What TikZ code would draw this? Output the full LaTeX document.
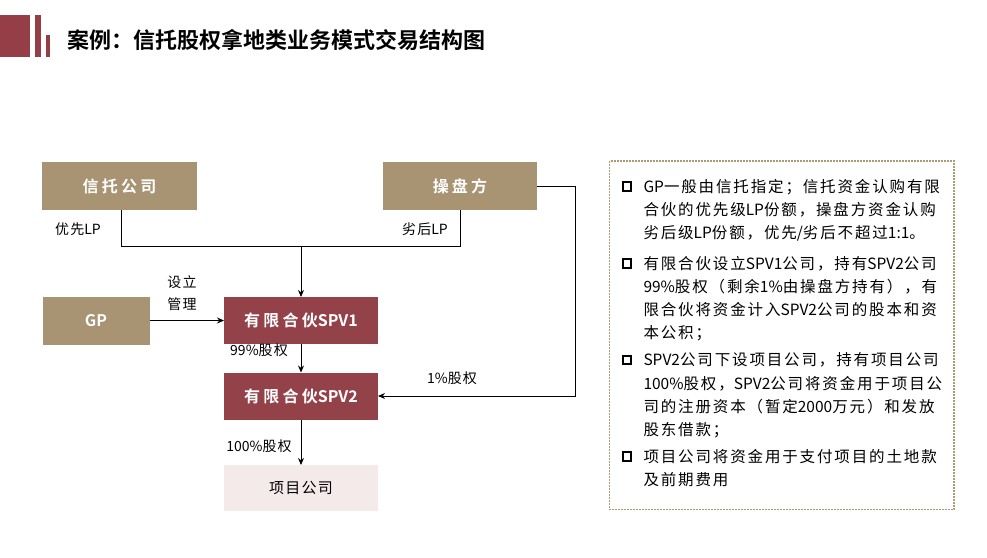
\documentclass[tikz,border=0pt]{standalone}
\usepackage{fontspec}
\usetikzlibrary{arrows.meta}
\newfontfamily\cjk[LetterSpace=12]{Noto Sans CJK SC}
\newfontfamily\cjkn{Noto Sans CJK SC}
\newfontfamily\cjklab[LetterSpace=8]{Noto Sans CJK SC}
\newfontfamily\cjkbox[LetterSpace=20]{Noto Sans CJK SC Bold}
\newfontfamily\cjkboxn{Noto Sans CJK SC Bold}
\newfontfamily\cjktitle{Noto Sans CJK SC Bold}
\newcommand\latn[1]{{\cjkn #1}}
\newcommand\latb[1]{{\cjkboxn #1}}
\definecolor{tanc}{RGB}{168,147,114}
\definecolor{redc}{RGB}{148,66,74}
\definecolor{pinkc}{RGB}{245,234,234}
\definecolor{barc}{RGB}{150,62,72}
\definecolor{dotc}{RGB}{176,154,114}
\tikzset{
  base/.style={inner sep=0pt, outer sep=0pt, align=center},
  tanbox/.style={base, fill=tanc, text=white, minimum height=48pt, font=\cjkbox\fontsize{16}{16}\selectfont},
  redbox/.style={base, fill=redc, text=white, minimum width=154pt, minimum height=47pt, font=\cjkbox\fontsize{16}{16}\selectfont},
  pinkbox/.style={base, fill=pinkc, text=black, minimum width=154pt, minimum height=46pt, font=\cjklab\fontsize{15}{15}\selectfont},
  lab/.style={base, text=black, font=\cjklab\fontsize{14}{14}\selectfont},
  conn/.style={line width=1pt, draw=black},
  arr/.style={conn, -{Stealth[length=7pt,width=6pt]}},
  txt/.style={base, anchor=west, text=black, font=\cjk\fontsize{15.5}{15.5}\selectfont},
  bul/.style={draw=black, line width=2pt, minimum size=8.5pt, inner sep=0pt},
}
\begin{document}
\begin{tikzpicture}[x=1pt,y=-1pt]
\useasboundingbox (0,0) rectangle (987,557);
\fill[white] (0,0) rectangle (987,557);
% title bars
\fill[barc] (0,15) rectangle (30,57);
\fill[barc] (35,15) rectangle (40.5,57);
\fill[barc] (46,35) rectangle (50,57);
\node[base, anchor=west, font=\cjktitle\fontsize{22}{22}\selectfont] (title) at (67,40) {案例：信托股权拿地类业务模式交易结构图};
% boxes
\node[tanbox, minimum width=155pt] (trust) at (119.5,186) {信托公司};
\node[tanbox, minimum width=154pt] (op) at (460,186) {操盘方};
\node[tanbox, minimum width=107pt] (gp) at (96,320.5) {\latb{GP}};
\node[redbox] (spv1) at (301,320.5) {有限合伙\latb{SPV1}};
\node[redbox] (spv2) at (301,396) {有限合伙\latb{SPV2}};
\node[pinkbox] (proj) at (301,488) {项目公司};
% connector coordinates
\coordinate (tb) at (121,210);
\coordinate (tj) at (121,246);
\coordinate (ob) at (460,210);
\coordinate (oj) at (460,246);
\coordinate (mj) at (301,246);
\coordinate (rt) at (575,186);
\coordinate (rb) at (575,396);
\draw[conn] (tb) -- (tj) -- (oj) -- (ob);
\draw[arr] (mj) -- (spv1.north);
\draw[arr] (gp.east) -- (spv1.west);
\draw[arr] (spv1.south) -- (spv2.north);
\draw[arr] (spv2.south) -- (proj.north);
\draw[arr] (op.east) -- (rt) -- (rb) -- (spv2.east);
% labels
\node[lab] (l1) at (78,229) {优先\latn{LP}};
\node[lab] (l2) at (425,229) {劣后\latn{LP}};
\node[lab] (l3) at (182,282) {设立};
\node[lab] (l4) at (182,304) {管理};
\node[lab] (l5) at (259,350) {\latn{99\%}股权};
\node[lab] (l6) at (452,378) {\latn{1\%}股权};
\node[lab] (l7) at (259,446.5) {\latn{100\%}股权};
% note box
\draw[dotc, line width=1.6pt, dash pattern=on 1.6pt off 1.4pt] (609.5,161) rectangle (954,509.5);
\node[bul] (b1) at (627,186.7) {};
\node[bul] (b2) at (627,263.3) {};
\node[bul] (b3) at (627,360) {};
\node[bul] (b4) at (627,456.7) {};
\node[txt] (t1) at (643.5,186.7) {\latn{GP}一般由信托指定；信托资金认购有限};
\node[txt] (t2) at (643.5,210) {合伙的优先级\latn{LP}份额，操盘方资金认购};
\node[txt] (t3) at (643.5,233.3) {劣后级\latn{LP}份额，优先\latn{/}劣后不超过\latn{1:1}。};
\node[txt] (t4) at (643.5,263.3) {有限合伙设立\latn{SPV1}公司，持有\latn{SPV2}公司};
\node[txt] (t5) at (643.5,286.7) {\latn{99\%}股权（剩余\latn{1\%}由操盘方持有），有};
\node[txt] (t6) at (643.5,310) {限合伙将资金计入\latn{SPV2}公司的股本和资};
\node[txt] (t7) at (643.5,333.3) {本公积；};
\node[txt] (t8) at (643.5,360) {\latn{SPV2}公司下设项目公司，持有项目公司};
\node[txt] (t9) at (643.5,383.3) {\latn{100\%}股权，\latn{SPV2}公司将资金用于项目公};
\node[txt] (t10) at (643.5,406.7) {司的注册资本（暂定\latn{2000}万元）和发放};
\node[txt] (t11) at (643.5,430) {股东借款；};
\node[txt] (t12) at (643.5,456.7) {项目公司将资金用于支付项目的土地款};
\node[txt] (t13) at (643.5,480) {及前期费用};
\end{tikzpicture}
\end{document}
